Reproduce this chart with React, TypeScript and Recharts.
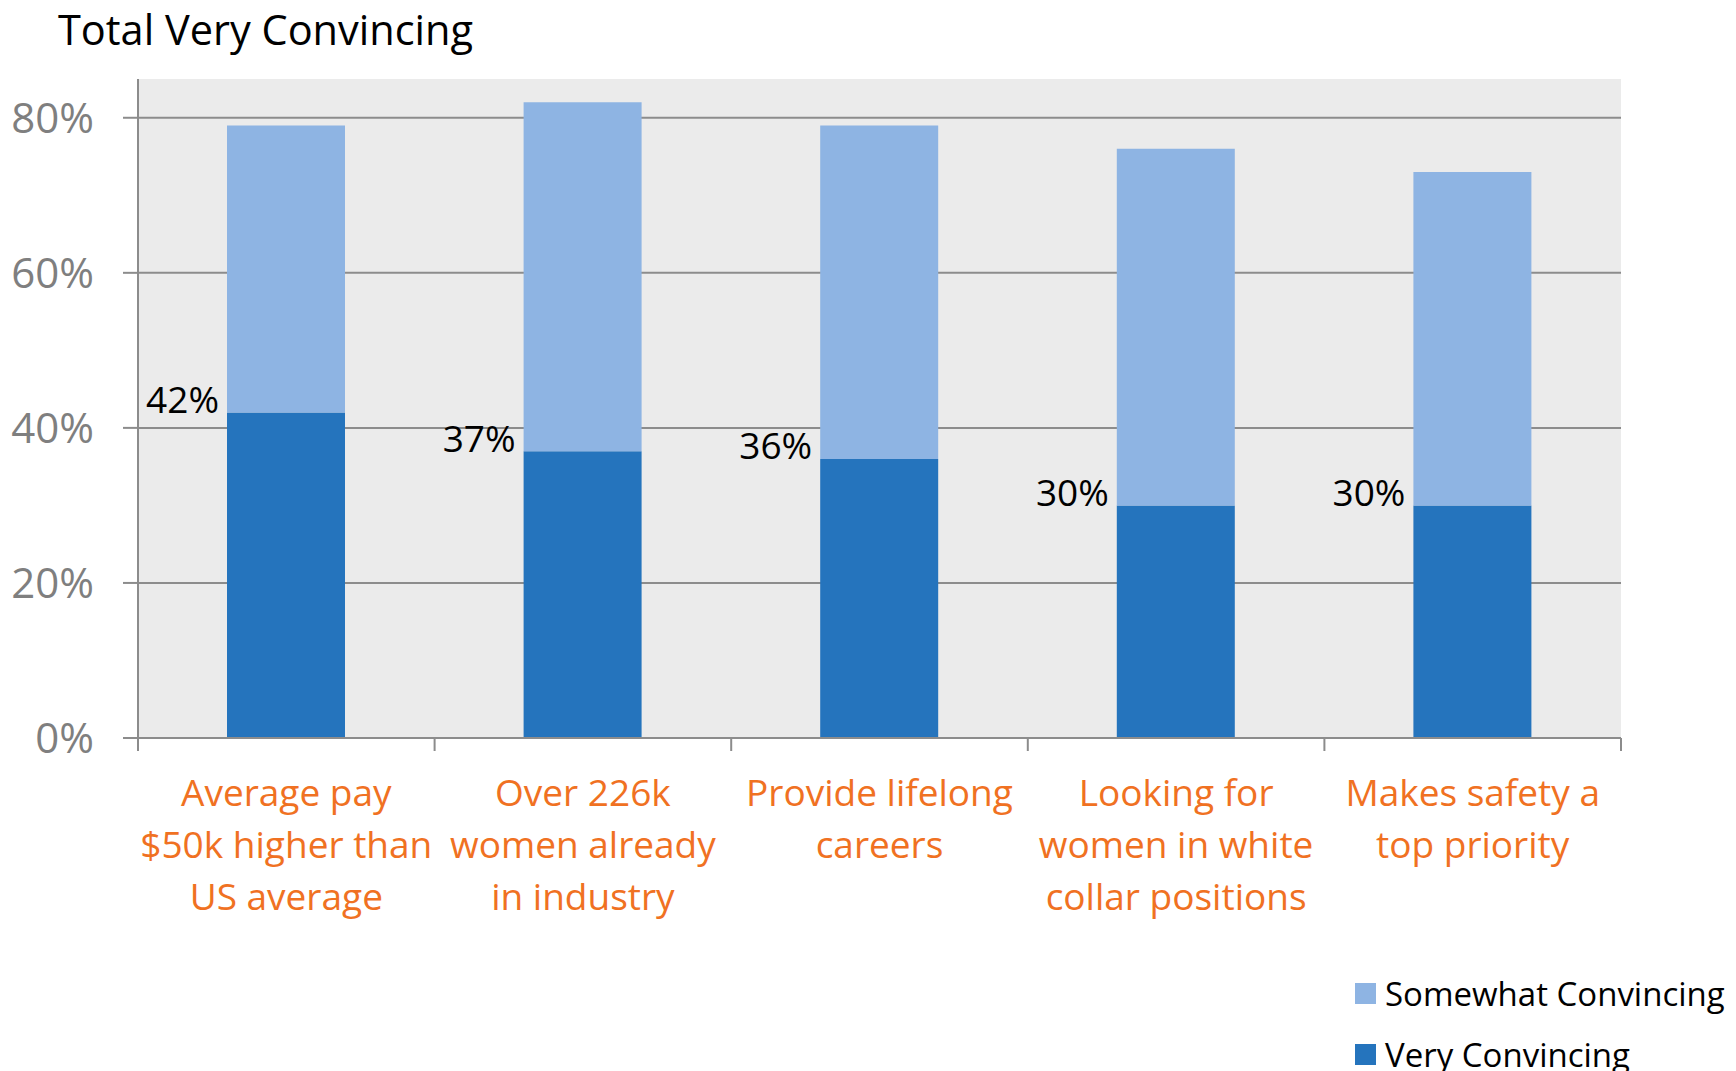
import React from 'react';
import { BarChart, Bar, XAxis, YAxis, CartesianGrid, LabelList } from 'recharts';

const categories = [
    'Average pay\n$50k higher than\nUS average',
    'Over 226k\nwomen already\nin industry',
    'Provide lifelong\ncareers',
    'Looking for\nwomen in white\ncollar positions',
    'Makes safety a\ntop priority',
];
const veryConvincing = [42, 37, 36, 30, 30];
const somewhatConvincing = [37, 45, 43, 46, 43];
const yTicks = [0, 20, 40, 60, 80];
const yMax = 85;
const seriesNames = ['Somewhat Convincing', 'Very Convincing'];

const DARK = '#2574BD';
const LIGHT = '#8EB4E3';
const ORANGE = '#F07122';
const AXIS = '#8C8C8C';
const FONT = '"Open Sans", sans-serif';

const data = categories.map((name, i) => ({
    name,
    very: veryConvincing[i],
    somewhat: somewhatConvincing[i],
}));

const CategoryTick = (props: any) => {
    const { x, y, payload, index } = props;
    const half = payload?.offset ?? 148.3;
    const lines = String(payload.value).split('\n');
    return (
        <g>
            <line x1={x - half} x2={x - half} y1={y} y2={y + 13} stroke={AXIS} strokeWidth={2} />
            {index === categories.length - 1 && (
                <line x1={x + half} x2={x + half} y1={y} y2={y + 13} stroke={AXIS} strokeWidth={2} />
            )}
            <text x={x} y={y + 68} textAnchor="middle" fill={ORANGE} fontSize={37} fontFamily={FONT}>
                {lines.map((l, i) => (
                    <tspan key={i} x={x} dy={i === 0 ? 0 : 52}>{l}</tspan>
                ))}
            </text>
        </g>
    );
};

const VeryLabel = (props: any) => {
    const { x, y, value } = props;
    return (
        <text x={x - 8} y={y - 14} textAnchor="end" dominantBaseline="central"
            fill="#000" fontSize={37} fontFamily={FONT}>
            {`${value}%`}
        </text>
    );
};

// grid lines only at the tick values, not at the top edge of the plot
const gridRows = (props: any) => {
    const scale = props?.yAxis?.scale;
    if (typeof scale === 'function') return yTicks.map((t) => scale(t));
    if (scale && typeof scale.map === 'function') return yTicks.map((t) => scale.map(t));
    const { top, height } = props.offset;
    return yTicks.map((t) => top + height * (1 - t / yMax));
};

const App: React.FC = () => {
    return (
        <div style={{ position: 'absolute', left: 0, top: 0, width: 1736, height: 1071, background: '#fff' }}>
            <BarChart width={1736} height={1071} data={data}
                margin={{ top: 79, right: 115, left: 0, bottom: 0 }}>
                <CartesianGrid vertical={false} fill="#EBEBEB" stroke={AXIS} strokeWidth={2}
                    horizontalCoordinatesGenerator={gridRows} />
                <XAxis dataKey="name" height={333} interval={0} tickSize={0} tickMargin={0}
                    tickLine={false} axisLine={{ stroke: AXIS, strokeWidth: 2 }} tick={<CategoryTick />} />
                <YAxis domain={[0, yMax]} ticks={yTicks} width={138} tickSize={15} tickMargin={29}
                    allowDataOverflow interval={0}
                    tickFormatter={(v) => `${v}%`}
                    axisLine={{ stroke: AXIS, strokeWidth: 2 }} tickLine={{ stroke: AXIS, strokeWidth: 2 }}
                    tick={{ fill: '#7F7F7F', fontSize: 42, fontFamily: FONT }} />
                <Bar dataKey="very" stackId="a" fill={DARK} barSize={118} isAnimationActive={false} name={seriesNames[1]}>
                    <LabelList dataKey="very" content={<VeryLabel />} />
                </Bar>
                <Bar dataKey="somewhat" stackId="a" fill={LIGHT} barSize={118} isAnimationActive={false} name={seriesNames[0]} />
            </BarChart>
            <svg width={1736} height={1071} style={{ position: 'absolute', left: 0, top: 0, pointerEvents: 'none' }}>
                <text x={58} y={45} fontSize={41.5} fontFamily={FONT} fill="#000">Total Very Convincing</text>
                {seriesNames.map((n, i) => (
                    <g key={n}>
                        <rect x={1355} y={983 + i * 61} width={21} height={21} fill={i === 0 ? LIGHT : DARK} />
                        <text x={1385} y={993 + i * 61} dominantBaseline="central" fontSize={33}
                            fontFamily={FONT} fill="#000">{n}</text>
                    </g>
                ))}
            </svg>
        </div>
    );
};

export default App;
